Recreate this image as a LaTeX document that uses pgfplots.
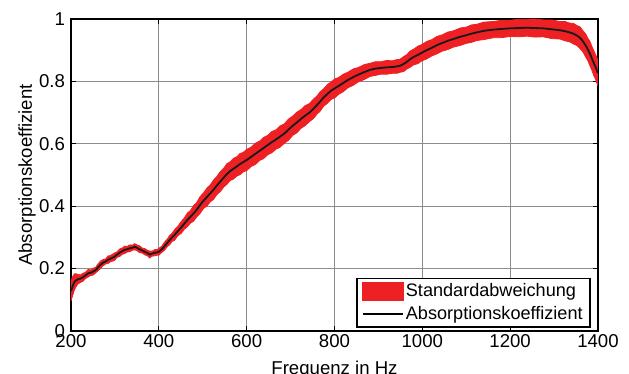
\documentclass[border=0pt]{standalone}
\usepackage{fontspec}
\setmainfont{Liberation Sans}
\usepackage{pgfplots}
\pgfplotsset{compat=1.18}
\usepackage{pgfplotstable}
\usepgfplotslibrary{fillbetween}
\definecolor{bandred}{RGB}{237,32,36}
\newcommand{\fs}{\fontsize{9.3}{11}\selectfont}
\newcommand{\fsl}{\fontsize{9.05}{11}\selectfont}
\pgfplotstableread{
x y h
200 0.128 0.032
204 0.145 0.030
208 0.158 0.025
212 0.163 0.020
216 0.166 0.015
222 0.168 0.012
227 0.172 0.013
233 0.178 0.010
239 0.185 0.012
245 0.187 0.009
250 0.190 0.011
256 0.195 0.009
261 0.203 0.011
267 0.212 0.012
273 0.219 0.010
279 0.223 0.008
284 0.228 0.012
290 0.232 0.010
299 0.238 0.012
305 0.245 0.009
311 0.251 0.012
317 0.256 0.010
322 0.260 0.012
328 0.262 0.009
334 0.265 0.011
340 0.267 0.008
345 0.270 0.010
350 0.267 0.009
356 0.262 0.011
362 0.258 0.008
368 0.254 0.010
374 0.250 0.009
379 0.245 0.011
385 0.248 0.008
391 0.251 0.010
396 0.252 0.009
400 0.254 0.011
407 0.262 0.010
413 0.272 0.013
419 0.282 0.012
425 0.292 0.015
430 0.300 0.013
436 0.308 0.017
443 0.320 0.015
451 0.332 0.019
458 0.344 0.018
465 0.356 0.022
472 0.366 0.020
479 0.377 0.025
486 0.388 0.023
494 0.404 0.027
502 0.418 0.025
510 0.430 0.029
517 0.441 0.027
524 0.452 0.031
532 0.466 0.029
540 0.479 0.032
548 0.492 0.030
555 0.503 0.033
562 0.512 0.030
570 0.520 0.033
578 0.528 0.031
585 0.535 0.034
592 0.541 0.031
600 0.548 0.034
610 0.558 0.031
620 0.568 0.034
630 0.578 0.031
638 0.586 0.034
648 0.596 0.031
657 0.605 0.034
667 0.614 0.031
676 0.623 0.034
686 0.633 0.031
695 0.645 0.034
705 0.658 0.031
714 0.668 0.033
724 0.680 0.030
733 0.690 0.032
743 0.700 0.029
752 0.712 0.031
760 0.724 0.029
767 0.735 0.031
775 0.748 0.028
784 0.760 0.030
792 0.770 0.028
801 0.778 0.030
810 0.786 0.027
820 0.795 0.028
830 0.804 0.025
843 0.814 0.026
855 0.822 0.023
868 0.830 0.024
881 0.837 0.021
893 0.841 0.022
905 0.843 0.020
919 0.845 0.022
932 0.846 0.020
942 0.848 0.022
949 0.850 0.021
958 0.856 0.024
965 0.863 0.023
972 0.871 0.026
980 0.878 0.025
990 0.885 0.028
999 0.892 0.026
1010 0.900 0.028
1022 0.908 0.026
1033 0.916 0.028
1045 0.923 0.026
1058 0.930 0.028
1071 0.936 0.026
1086 0.943 0.028
1100 0.948 0.026
1112 0.953 0.028
1124 0.957 0.026
1140 0.962 0.028
1162 0.966 0.026
1180 0.968 0.028
1200 0.970 0.026
1220 0.971 0.028
1238 0.972 0.027
1256 0.971 0.029
1275 0.970 0.027
1295 0.967 0.030
1313 0.964 0.028
1325 0.961 0.031
1335 0.957 0.030
1344 0.953 0.033
1352 0.947 0.032
1359 0.940 0.035
1366 0.928 0.034
1372 0.915 0.037
1377 0.902 0.036
1382 0.888 0.039
1386 0.874 0.038
1390 0.860 0.040
1394 0.848 0.039
1397 0.837 0.041
1400 0.826 0.040
}\data
\begin{document}
\begin{tikzpicture}
\begin{axis}[
  scale only axis,
  width=263.5pt, height=156pt,
  xmin=200, xmax=1400, ymin=0, ymax=1,
  xtick={200,400,...,1400}, ytick={0,0.2,...,1},
  yticklabels={0,0.2,0.4,0.6,0.8,1},
  /pgf/number format/assume math mode=true,
  /pgf/number format/1000 sep={},
  tick label style={font=\fs},
  xticklabel style={anchor=north, inner sep=0pt, yshift=-1.6pt},
  yticklabel style={anchor=east, inner sep=0pt, xshift=-2.8pt},
  tick align=inside, major tick length=2.5pt,
  axis line style={line width=0.75pt},
  every tick/.style={black, line width=0.5pt},
  grid=major,
  major grid style={black!45, line width=0.45pt},
  xlabel={Frequenz in Hz}, ylabel={Absorptionskoeffizient},
  xlabel style={font=\fs, at={(axis description cs:0.5,0)}, anchor=north, inner sep=0pt, yshift=-14.8pt},
  ylabel style={font=\fs, at={(axis description cs:-0.0835,0.5)}, anchor=center, rotate=0, inner sep=0pt},
  legend cell align=left,
  legend style={font=\fsl, at={(rel axis cs:0.986,0.0096)}, anchor=south east,
    draw=black, line width=0.75pt, fill=white, inner xsep=2.6pt, inner ysep=1.5pt,
    row sep=1.2pt, nodes={inner sep=1pt}},
]
\addlegendimage{legend image code/.code={\fill[bandred] (0pt,-4.25pt) rectangle (20pt,4.25pt);}}
\addlegendentry{Standardabweichung}
\addlegendimage{legend image code/.code={\draw[black, line width=0.7pt] (0pt,0pt)--(20pt,0pt);}}
\addlegendentry{Absorptionskoeffizient}
\addplot[name path=U, draw=bandred, line width=0.4pt, forget plot] table[x=x, y expr=\thisrow{y}+\thisrow{h}] {\data};
\addplot[name path=L, draw=bandred, line width=0.4pt, forget plot] table[x=x, y expr=\thisrow{y}-\thisrow{h}] {\data};
\addplot[fill=bandred, draw=none, forget plot] fill between[of=U and L];
\addplot[black!90, line width=0.9pt, forget plot] table[x=x, y=y] {\data};
\end{axis}
\pgfresetboundingbox
\path (-35.5pt,-21.5pt) rectangle (279pt,165.5pt);
\end{tikzpicture}
\end{document}
